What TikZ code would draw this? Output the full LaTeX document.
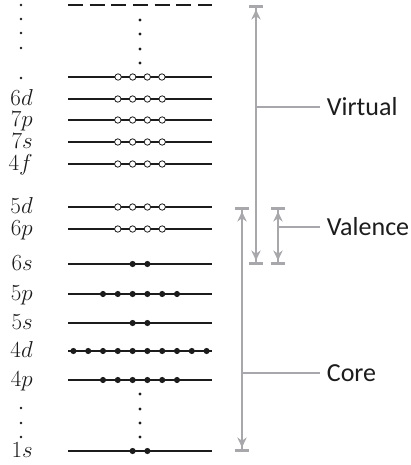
\documentclass[tikz,border=0pt]{standalone}
\usepackage{fontspec}
\setsansfont{Carlito}
\usetikzlibrary{arrows.meta}
\definecolor{spangray}{RGB}{168,168,172}
\definecolor{inkblack}{RGB}{28,28,28}

\begin{document}
\begin{tikzpicture}[x=0.75pt,y=-0.75pt,
    level/.style={draw=inkblack,line width=1.2pt},
    span/.style={draw=spangray,line width=1.4pt,
        {Bar[width=10.5pt,line width=2.2pt] Stealth[length=7.5pt,width=7pt,sep=1.2pt]}-{Stealth[length=7.5pt,width=7pt,sep=1.2pt] Bar[width=10.5pt,line width=2.2pt]}},
    leader/.style={draw=spangray,line width=1pt},
    elec/.style={circle,inner sep=0pt,minimum size=4.6pt,fill=inkblack},
    hole/.style={circle,inner sep=0pt,minimum size=4.8pt,draw=inkblack,fill=white,line width=0.6pt},
    shell/.style={anchor=base east,inner sep=0pt,text=inkblack,font=\fontsize{17}{20}\selectfont},
    tag/.style={anchor=west,inner sep=0pt,inner xsep=5pt,text=inkblack,font=\sffamily\fontsize{19.5}{22}\selectfont}]
    \useasboundingbox (0,0) rectangle (411,465);

    % levels
    \coordinate (top-l) at (68,5);
    \coordinate (top-r) at (212,5);
    \path (top-l) edge[level,dash pattern=on 11.25pt off 5pt] (top-r);
    \coordinate (x-l) at (68,77);
    \coordinate (x-r) at (212,77);
    \path (x-l) edge[level] (x-r);
    \foreach \k in {1,...,4}
        \node[hole] (x-\k) at ({140+(\k-2.5)*14.6},77) {};

    \foreach \lab/\y/\n/\kind in {6d/99/4/hole,7p/120/4/hole,7s/142/4/hole,4f/164/4/hole,
        5d/207/4/hole,6p/229/4/hole,6s/264/2/elec,5p/294/6/elec,5s/323/2/elec,
        4d/351/10/elec,4p/380/6/elec,1s/451/2/elec} {
        \coordinate (\lab-l) at (68,\y);
        \coordinate (\lab-r) at (212,\y);
        \path (\lab-l) edge[level] (\lab-r);
        \node[shell] (lbl\lab) at (33,\y+6) {$\lab$};
        \foreach \k in {1,...,\n}
            \node[\kind] (\lab-\k) at ({140+(\k-(\n+1)/2)*14.8},\y) {};
    }

    % dots
    \begin{scope}[every node/.style={circle,inner sep=0pt,fill=inkblack}]
        \foreach \y [count=\i] in {20,34,49,63}
            \node[minimum size=2.6pt] (up\i) at (140,\y) {};
        \foreach \y [count=\i] in {394,409,423,437}
            \node[minimum size=2.6pt] (dn\i) at (140,\y) {};
        \foreach \y [count=\i] in {5,19,33,48,78,408,423,437}
            \node[minimum size=1.9pt] (side\i) at (21,\y) {};
    \end{scope}

    % spans
    \coordinate (virt-t) at (256,5);
    \coordinate (virt-b) at (256,265);
    \coordinate (virt-m) at (256,107);
    \coordinate (val-t) at (278,207);
    \coordinate (val-b) at (278,265);
    \coordinate (val-m) at (278,227);
    \coordinate (core-t) at (242,207);
    \coordinate (core-b) at (242,452);
    \coordinate (core-m) at (242,373);
    \node[tag] (virt) at (320,107) {Virtual};
    \node[tag] (val) at (320,227) {Valence};
    \node[tag] (core) at (320,373) {Core};
    \begin{scope}
        \path (virt-t) edge[span] (virt-b);
        \path (val-t) edge[span] (val-b);
        \path (core-t) edge[span] (core-b);
        \draw[leader] (virt-m) -- (virt.west);
        \draw[leader] (val-m) -- (val.west);
        \draw[leader] (core-m) -- (core.west);
    \end{scope}
\end{tikzpicture}
\end{document}
